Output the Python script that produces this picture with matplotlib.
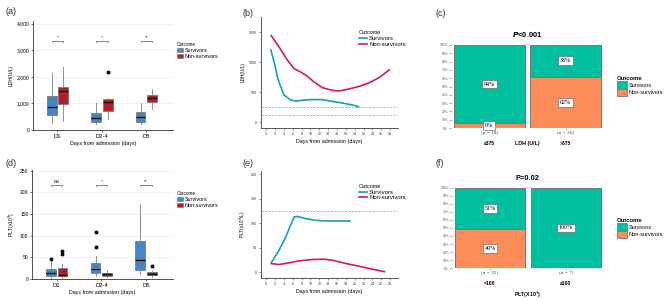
import matplotlib
matplotlib.use("Agg")
import matplotlib.pyplot as plt
from matplotlib.patches import Patch
from matplotlib.lines import Line2D
from matplotlib.ticker import FuncFormatter

plt.rcParams['font.family'] = ['Liberation Sans', 'DejaVu Sans']

W, H = 669, 301

# ---------------- datos ----------------
grupos = ["D1", "D2-4", "D5"]
# [whislo, q1, med, q3, whishi]
ldh_surv = [[248, 560, 870, 1280, 2150], [224, 310, 435, 621, 1018], [224, 286, 497, 683, 1031]]
ldh_non = [[348, 994, 1453, 1615, 2385], [410, 708, 1056, 1168, 1217], [807, 1056, 1192, 1329, 1553]]
ldh_surv_out = [[], [], []]
ldh_non_out = [[], [2198], []]
ldh_sig = ["*", "*", "**"]

plt_surv = [[2, 8, 14, 23, 41], [6, 15, 24, 36, 54], [12, 21, 45, 88, 173]]
plt_non = [[1.5, 6, 8.5, 26, 35], [4.6, 7.7, 11.5, 15, 20], [5, 8.5, 12, 16, 19]]
plt_surv_out = [[47], [75, 109], []]
plt_non_out = [[57, 65], [], [31]]
plt_sig = ["NS", "*", "**"]

# curvas LDH (b)
ldh_dias_s = [1, 2, 2.5, 3, 4, 5, 5.5, 6, 7, 8.5, 10.4, 12.7, 14.9, 17.2, 19.5, 21]
ldh_val_s = [1212, 930, 755, 640, 450, 395, 367, 360, 350, 365, 375, 372, 344, 317, 283, 250]
ldh_dias_n = [1, 2.9, 4.8, 6.3, 7.8, 9.3, 10.8, 12.7, 14.9, 16.5, 18.7, 21, 23.2, 25.5, 28]
ldh_val_n = [1450, 1250, 1028, 889, 833, 761, 667, 572, 528, 517, 550, 594, 650, 739, 878]
ldh_ref = [250, 120]

# curvas PLT (e)
plt_dias_s = [1, 2.9, 4.4, 5.5, 6.3, 7.0, 8.9, 11.2, 13.4, 16.5, 19.1]
plt_val_s = [17.7, 44.9, 72, 96, 113, 114, 109.5, 106, 104.7, 104.7, 104.7]
plt_dias_n = [1, 2.9, 5.1, 7.4, 10.4, 13.1, 14.9, 18, 21, 24, 26.9]
plt_val_n = [17.7, 15.6, 19, 23, 25.8, 26.5, 24.5, 17.7, 12.2, 6.1, 0.7]
plt_ref = [125]

# mosaicos
ldh_cat = ["\u2264375", ">375"]
ldh_n = [18, 26]
ldh_pct_s = [0.94, 0.38]
ldh_pct_n = [0.06, 0.62]

plt_cat = ["<100", "\u2265100"]
plt_n = [35, 7]
plt_pct_s = [0.51, 1.00]
plt_pct_n = [0.49, 0.00]

# colores
c_box_s, c_box_n = "#4a84c4", "#b21f24"
c_lin_s, c_lin_n = "#1a9db8", "#d6195a"
c_mos_s, c_mos_n = "#00bf9f", "#fd8d5a"


def rect(x0, y0, x1, y1):
    return [x0 / W, 1 - y1 / H, (x1 - x0) / W, (y1 - y0) / H]


fig = plt.figure(figsize=(W / 100, H / 100), dpi=100)


def cajas(ax, surv, non, s_out, n_out, sig, ytop, ystep, ybr, fmt):
    for datos, outl, color, off in [(surv, s_out, c_box_s, -0.13), (non, n_out, c_box_n, 0.13)]:
        stats = [dict(whislo=d[0], q1=d[1], med=d[2], q3=d[3], whishi=d[4], fliers=o)
                 for d, o in zip(datos, outl)]
        ax.bxp(stats, positions=[i + 1 + off for i in range(3)], widths=0.22,
               patch_artist=True, showcaps=False,
               boxprops=dict(facecolor=color, edgecolor="#707070", linewidth=0.5),
               medianprops=dict(color="#111111", linewidth=1.0),
               whiskerprops=dict(color="#808080", linewidth=0.6),
               flierprops=dict(marker="o", markersize=1.8, markerfacecolor="black",
                               markeredgecolor="black"))
    for i, s in enumerate(sig):
        x0, x1 = i + 1 - 0.13, i + 1 + 0.13
        d = ytop * 0.012
        ax.plot([x0, x0, x1, x1], [ybr - d, ybr, ybr, ybr - d], color="#555555", lw=0.5)
        ax.text(i + 1, ybr + d * 0.6, s, ha="center", va="bottom", fontsize=3.2)
    ax.set_xlim(0.45, 3.6)
    ax.set_ylim(0, ytop)
    ax.set_yticks([ystep * k for k in range(int(ytop / ystep) + 1)])
    ax.yaxis.set_major_formatter(FuncFormatter(fmt))
    ax.set_xticks([1, 2, 3])
    ax.set_xticklabels(grupos, fontsize=4.2)
    ax.tick_params(axis="y", labelsize=3.6, length=1.5, width=0.4, pad=1)
    ax.tick_params(axis="x", length=1.5, width=0.4, pad=1.5)
    ax.grid(axis="y", color="#ebebeb", lw=0.5)
    ax.set_axisbelow(True)
    for s in ["top", "right"]:
        ax.spines[s].set_visible(False)
    for s in ["left", "bottom"]:
        ax.spines[s].set_color("#333333")
        ax.spines[s].set_linewidth(0.6)
    ax.set_xlabel("Days from admission (days)", fontsize=3.8, labelpad=1.5)
    hand = [Patch(facecolor=c_box_s, edgecolor="#707070", lw=0.4, label="Survivors"),
            Patch(facecolor=c_box_n, edgecolor="#707070", lw=0.4, label="Non-survivors")]
    leg = ax.legend(handles=hand, title="Outcome", loc="upper left", bbox_to_anchor=(1.01, 0.83),
                    fontsize=3.9, title_fontsize=3.3, frameon=False, handlelength=1.1,
                    handleheight=0.9, handletextpad=0.4, labelspacing=0.2, borderaxespad=0)
    leg._legend_box.align = "left"


# (a)
ax = fig.add_axes(rect(33, 21, 173, 130))
cajas(ax, ldh_surv, ldh_non, ldh_surv_out, ldh_non_out, ldh_sig, 4100, 1000, 3350,
      lambda v, p: f"{int(v):,}")
ax.set_ylabel("LDH(U/L)", fontsize=3.7, labelpad=2)

# (d)
ax = fig.add_axes(rect(32, 170, 173, 279))
cajas(ax, plt_surv, plt_non, plt_surv_out, plt_non_out, plt_sig, 252, 50, 218,
      lambda v, p: f"{int(v)}")
ax.set_ylabel("PLT(x10$^9$)", fontsize=3.7, labelpad=2)


def curvas(ax, ds, vs, dn, vn, ref, ylim, yticks, ylab):
    for r in ref:
        ax.axhline(r, color="#999999", lw=0.5, ls=(0, (3, 2)))
    ax.plot(ds, vs, color=c_lin_s, lw=1.2, solid_capstyle="butt")
    ax.plot(dn, vn, color=c_lin_n, lw=1.2, solid_capstyle="butt")
    ax.set_xlim(-1.2, 29.8)
    ax.set_ylim(*ylim)
    ax.set_xticks(range(0, 29, 2))
    ax.set_yticks(yticks)
    ax.tick_params(labelsize=2.6, length=1.5, width=0.4, pad=1.5, colors="#333333")
    for s in ["top", "right"]:
        ax.spines[s].set_visible(False)
    for s in ["left", "bottom"]:
        ax.spines[s].set_color("#555555")
        ax.spines[s].set_linewidth(0.7)
    ax.set_xlabel("Days from admission (days)", fontsize=3.8, labelpad=2)
    ax.set_ylabel(ylab, fontsize=3.4, labelpad=2)
    hand = [Line2D([], [], color=c_lin_s, lw=1.2, label="Survivors"),
            Line2D([], [], color=c_lin_n, lw=1.2, label="Non-survivors")]
    leg = ax.legend(handles=hand, title="Outcome", loc="upper left", bbox_to_anchor=(0.7, 0.9),
                    fontsize=4.2, title_fontsize=4, frameon=False, handlelength=1.3,
                    handletextpad=0.4, labelspacing=0.1, borderaxespad=0)
    leg._legend_box.align = "left"


# (b)
ax = fig.add_axes(rect(261, 17, 398, 128))
curvas(ax, ldh_dias_s, ldh_val_s, ldh_dias_n, ldh_val_n, ldh_ref, (-100, 1750),
       [0, 500, 1000, 1500], "LDH(U/L)")

# (e)
ax = fig.add_axes(rect(261, 171, 398, 278))
curvas(ax, plt_dias_s, plt_val_s, plt_dias_n, plt_val_n, plt_ref, (-12, 207),
       [0, 50, 100, 150, 200], "PLT(x10$^9$/L)")


def mosaico(ax, cats, ns, ps, pn, titulo, xlab, ylab_y):
    x = [0, 1]
    ax.bar(x, pn, width=0.93, color=c_mos_n, edgecolor="#777777", lw=0.7, zorder=2)
    ax.bar(x, ps, bottom=pn, width=0.93, color=c_mos_s, edgecolor="#777777", lw=0.7, zorder=2)
    caja = dict(boxstyle="square,pad=0.3", fc="white", ec="#555555", lw=0.4)
    for i in range(2):
        if ps[i] > 0:
            ax.text(x[i], pn[i] + ps[i] / 2, f"{round(ps[i] * 100)}%", ha="center", va="center",
                    fontsize=4.3, family="Liberation Serif", bbox=caja, zorder=3)
        if pn[i] > 0:
            ax.text(x[i], max(pn[i] / 2, 0.03), f"{round(pn[i] * 100)}%", ha="center", va="center",
                    fontsize=4.3, family="Liberation Serif", bbox=caja, zorder=3)
        ax.text(x[i], -0.025, f"(n = {ns[i]})", ha="center", va="top", fontsize=3.8,
                family="Liberation Serif", color="#444444")
    ax.set_xlim(-0.5, 1.5)
    ax.set_ylim(0, 1)
    ax.set_yticks([k / 10 for k in range(11)])
    ax.set_yticklabels([f"{k * 10}%" for k in range(11)])
    ax.set_xticks(x)
    ax.set_xticklabels(cats, fontsize=3.6, fontweight="bold")
    ax.tick_params(axis="x", length=1.2, width=0.4, pad=8, color="#666666")
    ax.tick_params(axis="y", labelsize=2.3, length=1.2, width=0.4, pad=1, colors="#555555")
    ax.grid(axis="y", color="#ececec", lw=0.5)
    ax.set_axisbelow(True)
    for s in ax.spines.values():
        s.set_visible(False)
    ax.set_title(titulo, fontsize=5.4, fontweight="bold", pad=6)
    ax.text(0.5, ylab_y, xlab, transform=ax.transAxes, ha="center", va="top", fontsize=3.8,
            fontweight="bold")
    hand = [Patch(facecolor=c_mos_s, edgecolor="#777777", lw=0.6, label="Survivors"),
            Patch(facecolor=c_mos_n, edgecolor="#777777", lw=0.6, label="Non-survivors")]
    leg = ax.legend(handles=hand, title="Outcome", loc="upper left", bbox_to_anchor=(1.07, 0.65),
                    fontsize=4, title_fontsize=4.2, frameon=False, handlelength=1.8,
                    handleheight=1.7, handletextpad=0.3, labelspacing=0.0, borderaxespad=0)
    leg.get_title().set_fontweight("bold")
    leg._legend_box.align = "left"


# (c)
ax = fig.add_axes(rect(451, 45, 604, 128))
mosaico(ax, ldh_cat, ldh_n, ldh_pct_s, ldh_pct_n, r"$\mathbfit{P}$<0.001", "LDH (U/L)", -0.16)

# (f)
ax = fig.add_axes(rect(452, 188, 604, 268))
mosaico(ax, plt_cat, plt_n, plt_pct_s, plt_pct_n, "P=0.02", "PLT(X10$^9$)", -0.27)

for lab, x, y in [("(a)", 5, 12), ("(b)", 242, 13), ("(c)", 436, 13),
                  ("(d)", 5, 163), ("(e)", 242, 163), ("(f)", 436, 163)]:
    fig.text(x / W, 1 - y / H, lab, fontsize=6.5, va="center", ha="left", color="#333333")

fig.savefig("out.png", dpi=100)
